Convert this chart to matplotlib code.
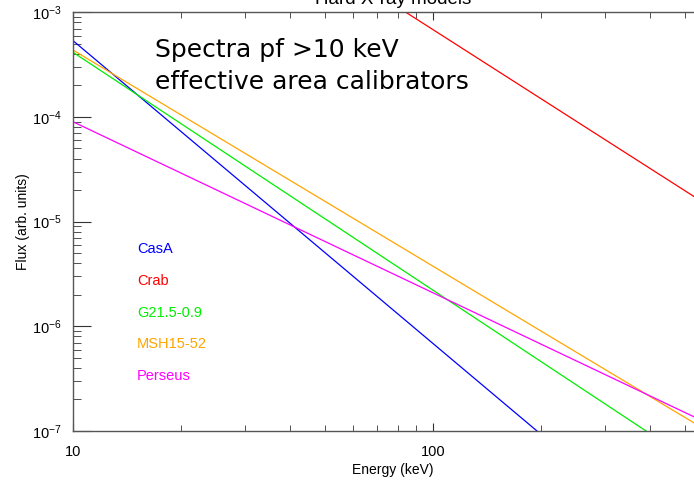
import numpy as np, matplotlib as mpl
mpl.use("Agg"); import matplotlib.pyplot as plt
from matplotlib.ticker import FixedLocator, FixedFormatter, LogLocator, NullFormatter
mpl.rcParams.update({"font.family": "Liberation Sans", "mathtext.fontset": "custom",
    "mathtext.rm": "Liberation Sans", "mathtext.it": "Liberation Sans"})

energy = [10, 600]
sources = ["CasA", "Crab", "G21.5-0.9", "MSH15-52", "Perseus"]
flux_casa = [5.36e-4, 3.85e-9]
flux_crab = [0.108, 1.33e-5]
flux_g21 = [4.15e-4, 3.78e-8]
flux_msh = [4.36e-4, 9.3e-8]
flux_perseus = [9.0e-5, 1.12e-7]
colors = ["#0000ff", "#ff0000", "#00ee00", "#ffa500", "#ff00ff"]

fig = plt.figure(figsize=(6.94, 4.83), dpi=100)
ax = fig.add_axes([73/694, 52/483, 640/694, 418.7/483])
for f, c in zip([flux_casa, flux_crab, flux_g21, flux_msh, flux_perseus], colors):
    ax.plot(energy, f, color=c, lw=0.9)
ax.set_xscale("log"); ax.set_yscale("log")
ax.set_xlim(10, 600); ax.set_ylim(1e-7, 1e-3)

ax.xaxis.set_major_locator(FixedLocator([10, 100]))
ax.xaxis.set_major_formatter(FixedFormatter(["10", "100"]))
ax.xaxis.set_minor_locator(LogLocator(base=10, subs=np.arange(2, 10)))
ax.xaxis.set_minor_formatter(NullFormatter())
ax.yaxis.set_minor_locator(LogLocator(base=10, subs=np.arange(2, 10)))
ax.yaxis.set_minor_formatter(NullFormatter())
ax.tick_params(which="both", direction="in", top=True, right=True, color="#333", labelsize=10.5)
ax.tick_params(axis="x", which="major", length=6, pad=10)
ax.tick_params(axis="x", which="minor", length=4)
ax.tick_params(axis="y", which="major", length=13, pad=8)
ax.tick_params(axis="y", which="minor", length=6)
for s in ax.spines.values():
    s.set_color("#555"); s.set_linewidth(1.0)

ax.set_xlabel("Energy (keV)", fontsize=10)
ax.xaxis.set_label_coords(320/640, -32/418.7)
ax.set_ylabel("Flux (arb. units)", fontsize=10)
ax.yaxis.set_label_coords(-43/640, 0.5)
fig.text(393/694, 1 - 4/483, "Hard X-ray models", ha="center", va="baseline", fontsize=13.5)

fig.text(155/694, 1 - 57/483, "Spectra pf >10 keV", fontsize=18, family="DejaVu Sans", va="baseline")
fig.text(155/694, 1 - 89/483, "effective area calibrators", fontsize=18, family="DejaVu Sans", va="baseline")
for i, (name, c) in enumerate(zip(sources, colors)):
    fig.text(137/694, 1 - (253 + i * 31.8)/483, name, color=c, fontsize=10.5, va="baseline")

fig.savefig("out.png", dpi=100)
